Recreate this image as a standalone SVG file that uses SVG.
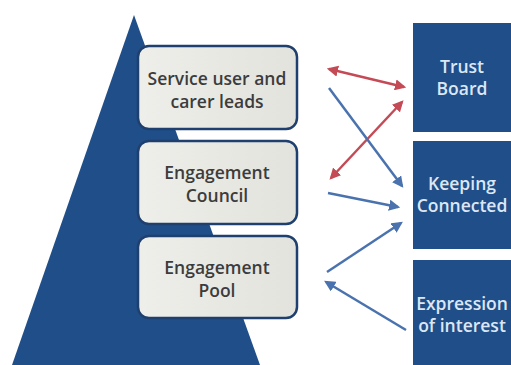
<svg xmlns="http://www.w3.org/2000/svg" width="511" height="365" viewBox="0 0 511 365">
  <style>
    .tier rect { fill: url(#tierFill); stroke: #1f406f; stroke-width: 2.5; }
    .tier text { font-family: "Open Sans", "Liberation Sans", sans-serif; font-size: 17.5px; font-weight: 600; fill: #3c3c3c; text-anchor: middle; }
    .forum rect { fill: #1f4e89; }
    .forum text { font-family: "Open Sans", "Liberation Sans", sans-serif; font-size: 17.5px; font-weight: 600; fill: #dde7f3; text-anchor: middle; }
    .red { stroke: #c44a55; stroke-width: 2.5; fill: none; }
    .blue { stroke: #4a72ae; stroke-width: 2.5; fill: none; }
  </style>
  <defs>
    <linearGradient id="tierFill" x1="0" y1="0" x2="1" y2="0">
      <stop offset="0" stop-color="#eeeeea"/>
      <stop offset="1" stop-color="#e3e3dd"/>
    </linearGradient>
    <marker id="redHead" viewBox="0 0 10 10" refX="8" refY="5" markerWidth="4.5" markerHeight="4.5" orient="auto-start-reverse">
      <path d="M0,0 L10,5 L0,10 z" fill="#c44a55"/>
    </marker>
    <marker id="blueHead" viewBox="0 0 10 10" refX="8" refY="5" markerWidth="4.5" markerHeight="4.5" orient="auto-start-reverse">
      <path d="M0,0 L10,5 L0,10 z" fill="#4a72ae"/>
    </marker>
  </defs>

  <rect width="511" height="365" fill="#ffffff"/>

  <!-- pyramid -->
  <polygon id="pyramid" points="134,15 260,365 12,365" fill="#1f4e89"/>

  <!-- tiers -->
  <g id="service-user-leads" class="tier">
    <rect x="138" y="46" width="159" height="83" rx="11"/>
    <text x="217" y="85">Service user and</text>
    <text x="217" y="108">carer leads</text>
  </g>
  <g id="engagement-council" class="tier">
    <rect x="138" y="141" width="159" height="83" rx="11"/>
    <text x="217" y="179">Engagement</text>
    <text x="217" y="202">Council</text>
  </g>
  <g id="engagement-pool" class="tier">
    <rect x="138" y="236" width="159" height="82" rx="11"/>
    <text x="217" y="274">Engagement</text>
    <text x="217" y="297">Pool</text>
  </g>

  <!-- forums -->
  <g id="trust-board" class="forum">
    <rect x="413" y="23" width="98" height="109"/>
    <text x="462" y="73">Trust</text>
    <text x="462" y="95">Board</text>
  </g>
  <g id="keeping-connected" class="forum">
    <rect x="413" y="141" width="98" height="108"/>
    <text x="462" y="190">Keeping</text>
    <text x="462" y="212">Connected</text>
  </g>
  <g id="expression-of-interest" class="forum">
    <rect x="413" y="260" width="98" height="105"/>
    <text x="462" y="310">Expression</text>
    <text x="462" y="332">of interest</text>
  </g>

  <!-- connectors -->
  <g id="connectors">
    <line class="red" x1="329" y1="69" x2="404" y2="87" marker-start="url(#redHead)" marker-end="url(#redHead)"/>
    <line class="red" x1="331" y1="178" x2="402" y2="102" marker-start="url(#redHead)" marker-end="url(#redHead)"/>
    <line class="blue" x1="329" y1="88" x2="402" y2="186" marker-end="url(#blueHead)"/>
    <line class="blue" x1="328" y1="193" x2="398" y2="207" marker-end="url(#blueHead)"/>
    <line class="blue" x1="327" y1="272" x2="401" y2="223" marker-end="url(#blueHead)"/>
    <line class="blue" x1="406" y1="330" x2="326" y2="282" marker-end="url(#blueHead)"/>
  </g>
</svg>
